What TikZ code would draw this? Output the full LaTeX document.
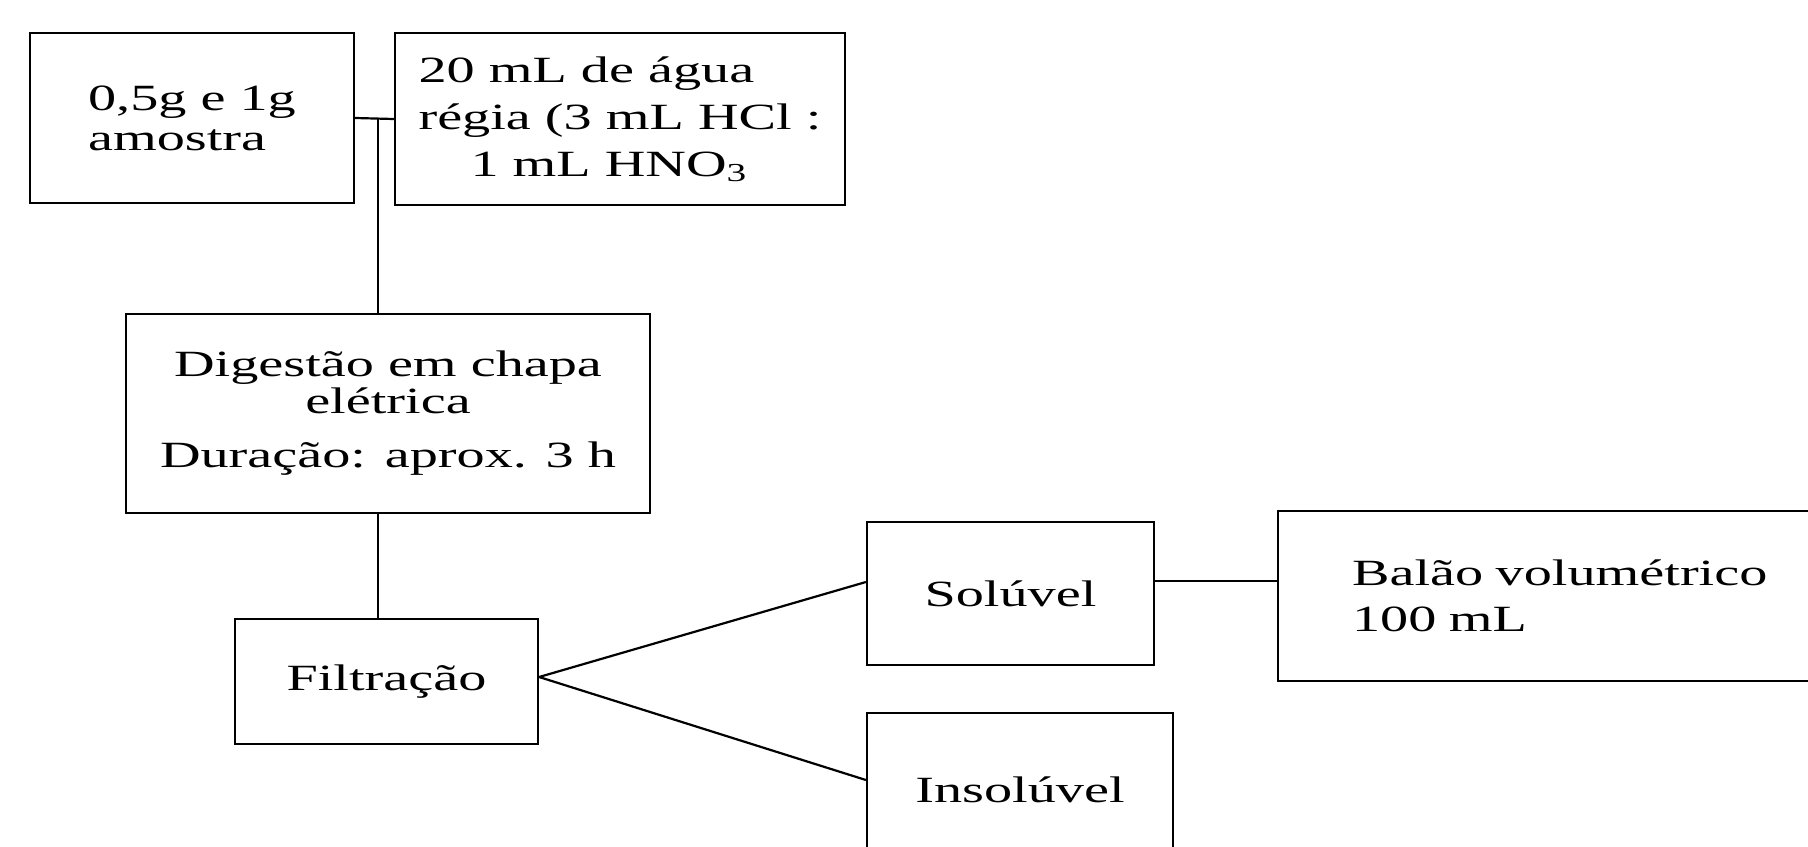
\documentclass[tikz,border=0pt]{standalone}
\usepackage{fontspec}
\setmainfont{Liberation Serif}[FakeStretch=1.52]

\begin{document}
\begin{tikzpicture}[x=0.5pt,y=-0.5pt,
    caixa/.style={draw,line width=1.1pt,inner sep=0pt,align=center,
      font=\fontsize{18.5}{20}\selectfont},
    liga/.style={line width=1.1pt}]
  \useasboundingbox (0,0) rectangle (1808,846);
  \clip (0,0) rectangle (1808,846);

  \node[caixa,minimum width=162pt,minimum height=85pt,align=left](Amostra) at (192,118) {0,5g e 1g\\amostra};
  \node[caixa,minimum width=225pt,minimum height=86pt,align=left,
    font=\fontsize{18.5}{23.5}\selectfont](Agua) at (620,119) {20 mL de água\\régia (3 mL HCl :\\\hspace*{26pt}1 mL HNO\textsubscript{3}};
  \node[caixa,minimum width=262pt,minimum height=99.5pt,
    font=\fontsize{18.5}{18.5}\selectfont](Digest) at (388,413.5) {Digestão em chapa\\elétrica\\[8.5pt]Duração: aprox. 3 h};
  \node[caixa,minimum width=151.5pt,minimum height=62.5pt](Filtr) at (386.5,681.5) {Filtração};
  \node[caixa,minimum width=143.5pt,minimum height=71.5pt](Sol) at (1010.5,593.5) {Solúvel};
  \node[caixa,minimum width=153pt,minimum height=77pt](Insol) at (1020,790) {Insolúvel};
  \node[caixa,anchor=west,align=left,text width=226pt,inner xsep=37pt,minimum height=85pt,
    font=\fontsize{18.5}{23}\selectfont](Balao) at (1277,596) {Balão volumétrico\\100 mL};

  \coordinate (Jct) at (378,118);
  \path ([yshift=6.25pt]Sol.east) coordinate (SolDir);

  \draw[liga] (Amostra.east) -- (Agua.west);
  \draw[liga] (Jct) -- (Jct |- Digest.north);
  \draw[liga] (Digest.south -| Jct) -- (Filtr.north -| Jct);
  \draw[liga] ([yshift=2.25pt]Filtr.east) -- ([yshift=5.75pt]Sol.west);
  \draw[liga] ([yshift=2.25pt]Filtr.east) -- ([yshift=5pt]Insol.west);
  \draw[liga] (SolDir) -- (SolDir -| Balao.west);
\end{tikzpicture}
\end{document}
